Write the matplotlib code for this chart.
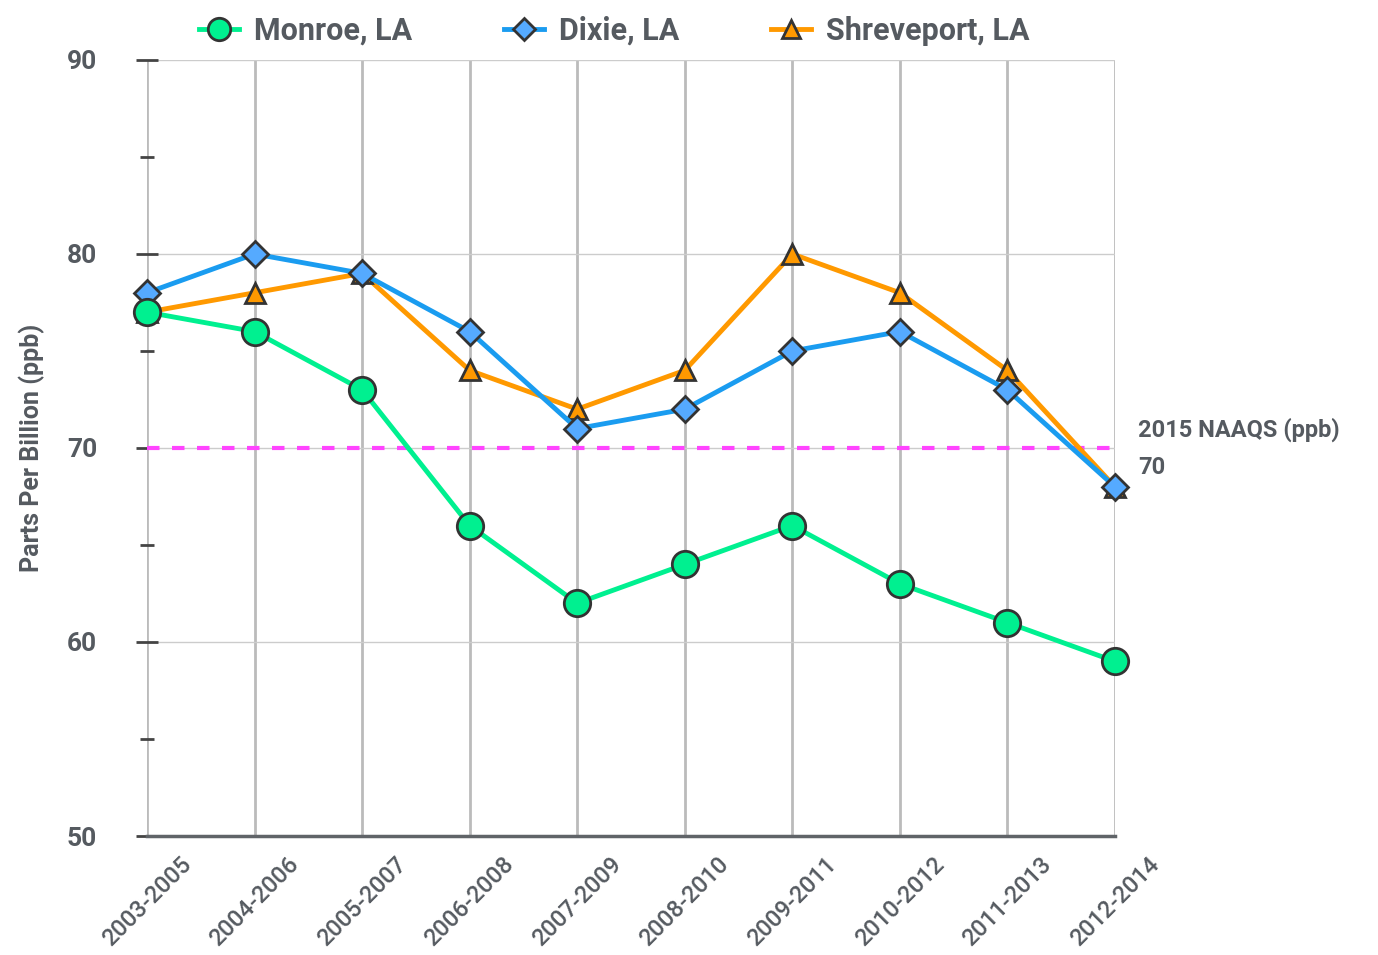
import matplotlib
matplotlib.use("Agg")
import matplotlib.pyplot as plt
from matplotlib.ticker import MultipleLocator

periods = ["2003-2005", "2004-2006", "2005-2007", "2006-2008", "2007-2009",
           "2008-2010", "2009-2011", "2010-2012", "2011-2013", "2012-2014"]
monroe = [77, 76, 73, 66, 62, 64, 66, 63, 61, 59]
dixie = [78, 80, 79, 76, 71, 72, 75, 76, 73, 68]
shreveport = [77, 78, 79, 74, 72, 74, 80, 78, 74, 68]
naaqs = 70

txt = "#555a60"
plt.rcParams['font.family'] = ['Roboto', 'DejaVu Sans']

fig = plt.figure(figsize=(13.78, 9.55), dpi=100)
ax = fig.add_axes([0.1067, 0.1246, 0.7024, 0.8126])

x = list(range(len(periods)))
l3, = ax.plot(x, shreveport, color="#ff9900", lw=3.5, marker="^", ms=15,
              mfc="#ff9900", mec="#333333", mew=2, label="Shreveport, LA", zorder=3, clip_on=False)
l2, = ax.plot(x, dixie, color="#1a9cf0", lw=3.5, marker="D", ms=13,
              mfc="#55aaff", mec="#333333", mew=2, label="Dixie, LA", zorder=4, clip_on=False)
l1, = ax.plot(x, monroe, color="#00f090", lw=3.5, marker="o", ms=19,
              mfc="#00f090", mec="#333333", mew=2, label="Monroe, LA", zorder=5, clip_on=False)

ax.axhline(naaqs, color="#ff44ff", lw=3, ls=(0, (3, 3)), zorder=2)

ax.set_xlim(0, len(periods) - 1)
ax.set_ylim(50, 90)
ax.set_xticks(x)
ax.set_xticklabels(periods, rotation=45, ha="center", va="top",
                   fontsize=17, color=txt, fontweight="medium")
ax.yaxis.set_major_locator(MultipleLocator(10))
ax.yaxis.set_minor_locator(MultipleLocator(5))
for lab in ax.get_yticklabels():
    lab.set_fontweight("bold")
ax.tick_params(axis="y", which="major", direction="inout", length=16, width=2,
               color="#444444", labelsize=19, labelcolor=txt, pad=28)
ax.tick_params(axis="y", which="minor", direction="inout", length=10, width=2,
               color="#444444")
ax.tick_params(axis="x", length=0, pad=12)

ax.grid(axis="y", which="major", color="#cccccc", lw=1)
ax.grid(axis="x", color="#bbbbbb", lw=2)
ax.set_axisbelow(True)
for s in ["top", "right", "left"]:
    ax.spines[s].set_visible(False)
ax.spines["bottom"].set_color("#606468")
ax.spines["bottom"].set_linewidth(2.5)

ax.set_ylabel("Parts Per Billion (ppb)", fontsize=18, fontweight="bold", color=txt, labelpad=16)

ax.text(1.024, 0.523, "2015 NAAQS (ppb)", transform=ax.transAxes, fontsize=17,
        fontweight="bold", color=txt, va="center", ha="left")
ax.text(1.024, 0.4755, str(naaqs), transform=ax.transAxes, fontsize=17,
        fontweight="bold", color=txt, va="center", ha="left")

leg = fig.legend(handles=[l1, l2, l3], loc="upper center", bbox_to_anchor=(0.446, 1.012),
                 ncol=3, frameon=False, fontsize=22, handlelength=1.3,
                 columnspacing=3.0, handletextpad=0.5, markerscale=0.85)
for t in leg.get_texts():
    t.set_color(txt)
    t.set_fontweight("bold")

fig.savefig("out.png", dpi=100)
